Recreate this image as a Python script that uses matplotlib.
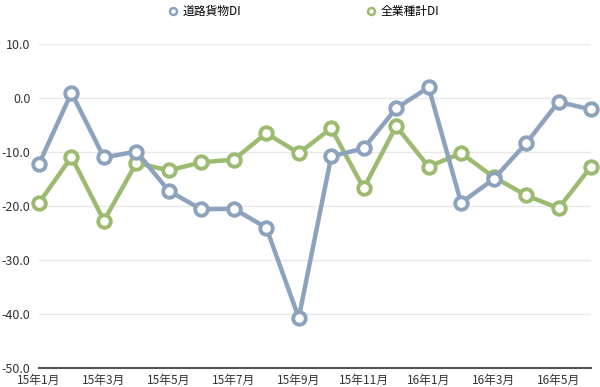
import matplotlib
matplotlib.use("Agg")
import matplotlib.pyplot as plt
from matplotlib.lines import Line2D

plt.rcParams['font.family'] = ['Noto Sans CJK JP', 'DejaVu Sans']

months = ["15年1月", "15年2月", "15年3月", "15年4月", "15年5月", "15年6月",
          "15年7月", "15年8月", "15年9月", "15年10月", "15年11月", "15年12月",
          "16年1月", "16年2月", "16年3月", "16年4月", "16年5月", "16年6月"]
road_di = [-12.2, 1.0, -11.0, -9.9, -17.2, -20.6, -20.5, -24.0, -40.7, -10.8,
           -9.3, -1.9, 2.0, -19.4, -15.0, -8.4, -0.7, -2.1]
all_di = [-19.4, -10.9, -22.7, -12.0, -13.4, -11.9, -11.4, -6.5, -10.2, -5.6,
          -16.7, -5.2, -12.7, -10.2, -14.6, -18.0, -20.4, -12.7]
series_names = ["道路貨物DI", "全業種計DI"]
yticks = [10.0, 0.0, -10.0, -20.0, -30.0, -40.0, -50.0]

blue = "#8da3bd"
green = "#9dbb70"

fig = plt.figure(figsize=(6, 3.87), dpi=100)
ax = fig.add_axes([0.065, 0.049, 0.92, 0.837])

x = list(range(len(months)))
for vals, col, name in [(all_di, green, series_names[1]), (road_di, blue, series_names[0])]:
    ax.plot(x, vals, color=col, lw=3.2, marker='o', ms=9, mfc='white', mec=col,
            mew=2.8, clip_on=False, zorder=3 if col == blue else 2, solid_joinstyle='round')

ax.set_xlim(0, len(months) - 1)
ax.set_ylim(-50, 10)
ax.set_yticks(yticks)
ax.set_yticklabels([f"{v:.1f}" for v in yticks], fontsize=9, color="#333333")
ax.set_xticks(x[::2])
ax.set_xticklabels(months[::2], fontsize=8.5, color="#333333")
ax.tick_params(axis='x', length=0, pad=4)
ax.tick_params(axis='y', length=0, pad=6)
ax.grid(axis='y', color="#e8e8e8", lw=1)
ax.set_axisbelow(True)
for s in ['top', 'right', 'left']:
    ax.spines[s].set_visible(False)
ax.spines['bottom'].set_color("#555555")
ax.spines['bottom'].set_linewidth(1.5)
ax.spines['bottom'].set_zorder(1)

handles = [Line2D([], [], ls='none', marker='o', ms=5, mfc='white', mec=blue, mew=1.8),
           Line2D([], [], ls='none', marker='o', ms=5, mfc='white', mec=green, mew=1.8)]
fig.legend(handles, series_names, loc='upper center', bbox_to_anchor=(0.505, 1.015),
           ncol=2, frameon=False, fontsize=8.5, columnspacing=10.5, handletextpad=0.3,
           handlelength=1.0)

fig.savefig("out.png", dpi=100, facecolor='white')
